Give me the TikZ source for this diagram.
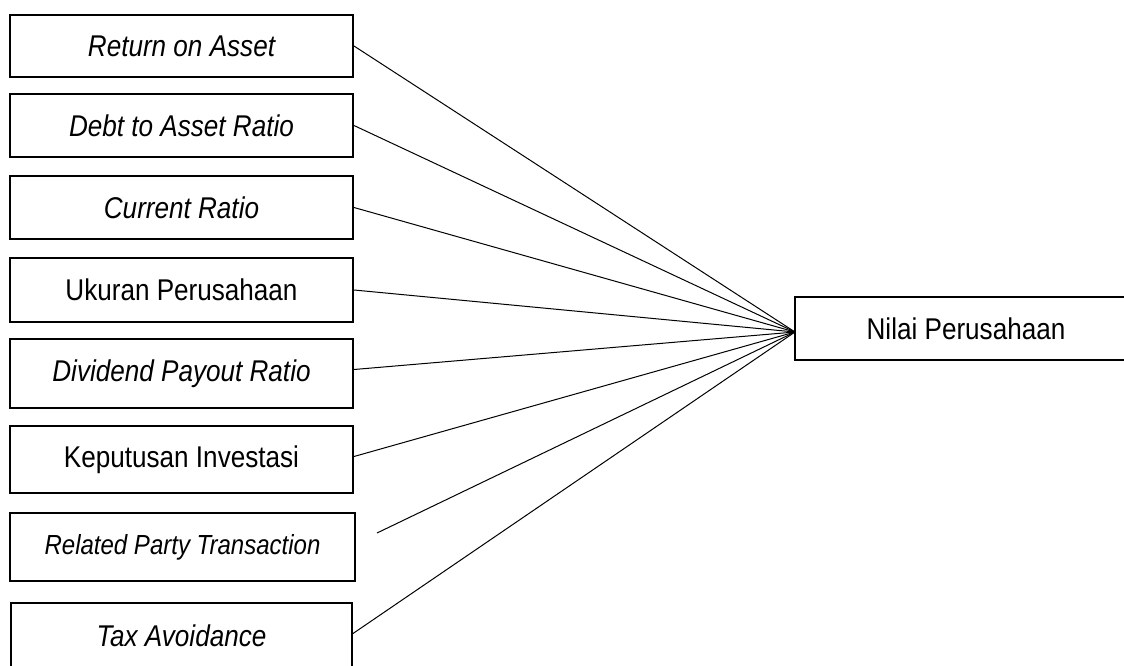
\documentclass[tikz,border=0pt]{standalone}
\usepackage{fontspec}
\setmainfont{Liberation Sans}[FakeStretch=0.87]
\begin{document}
\begin{tikzpicture}[x=1pt,y=-1pt,
  varbox/.style={draw=black,line width=2pt,inner sep=0pt,minimum width=343pt,
    font=\fontsize{30}{35}\selectfont},
  link/.style={draw=black,line width=1pt}]
\useasboundingbox (0,0) rectangle (1124,666);
\node[varbox,minimum height=62pt] (b1) at (181.5,46) {\itshape Return on Asset};
\node[varbox,minimum height=63pt] (b2) at (181.5,125.5) {\itshape Debt to Asset Ratio};
\node[varbox,minimum height=63pt] (b3) at (181.5,207.5) {\itshape Current Ratio};
\node[varbox,minimum height=64pt] (b4) at (181.5,290) {Ukuran Perusahaan};
\node[varbox,minimum height=69pt] (b5) at (181.5,373.5) {\itshape Dividend Payout Ratio};
\node[varbox,minimum height=67pt] (b6) at (181.5,459.5) {Keputusan Investasi};
\node[varbox,minimum height=68pt,minimum width=345pt,font=\fontsize{27.6}{32}\selectfont] (b7) at (182.5,547) {\itshape Related Party Transaction};
\node[varbox,minimum height=65pt,minimum width=341pt] (b8) at (181.5,635.5) {\itshape Tax Avoidance};
\node[varbox,minimum height=63pt,minimum width=342pt] (np) at (966,328.5) {Nilai Perusahaan};
\coordinate (hub) at (795,332);
\coordinate (rptend) at (377,533);
\draw[link] (b1.east) -- (hub);
\draw[link] (b2.east) -- (hub);
\draw[link] (b3.east) -- (hub);
\draw[link] (b4.east) -- (hub);
\draw[link] ([yshift=4pt]b5.east) -- (hub);
\draw[link] ([yshift=3pt]b6.east) -- (hub);
\draw[link] (rptend) -- (hub);
\draw[link] ([yshift=2pt]b8.east) -- (hub);
\end{tikzpicture}
\end{document}
